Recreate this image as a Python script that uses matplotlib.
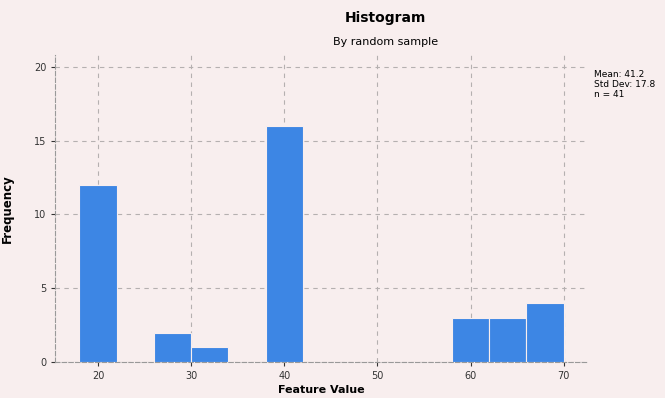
import matplotlib.pyplot as plt

# histogram bins (edges) and counts
edges = [18, 22, 26, 30, 34, 38, 42, 46, 50, 54, 58, 62, 66, 70]
counts = [12, 0, 2, 1, 0, 16, 0, 0, 0, 0, 3, 3, 4]
xticks = [20, 30, 40, 50, 60, 70]
yticks = [0, 5, 10, 15, 20]
stats_text = "Mean: 41.2\nStd Dev: 17.8\nn = 41"

bg = "#f8eeee"
fig = plt.figure(figsize=(6.65, 3.98), dpi=100, facecolor=bg)
ax = fig.add_axes([0.083, 0.09, 0.801, 0.772], facecolor=bg)

widths = [edges[i + 1] - edges[i] for i in range(len(counts))]
ax.bar(edges[:-1], counts, width=widths, align="edge", color="#3d86e4",
       edgecolor=bg, linewidth=0.8, zorder=3)

ax.set_xlim(edges[0] - 0.05 * (edges[-1] - edges[0]), edges[-1] + 0.05 * (edges[-1] - edges[0]))
ax.set_ylim(0, 20.8)
ax.set_xticks(xticks)
ax.set_yticks(yticks)
ax.tick_params(labelsize=7, colors="#333333", length=3)
ax.grid(True, linestyle=(0, (4, 4)), color="#b5b0b0", linewidth=0.8, zorder=0)

for s in ["top", "right"]:
  ax.spines[s].set_visible(False)
for s in ["left", "bottom"]:
  ax.spines[s].set_color("#999999")
  ax.spines[s].set_linestyle((0, (4, 2)))

ax.set_xlabel("Feature Value", fontsize=8, fontweight="bold", labelpad=3)
ax.set_ylabel("Frequency", fontsize=8.5, fontweight="bold", labelpad=14)
fig.text(0.58, 0.955, "Histogram", ha="center", va="center", fontsize=10, fontweight="bold")
fig.text(0.58, 0.895, "By random sample", ha="center", va="center", fontsize=8)
fig.text(0.893, 0.825, stats_text, ha="left", va="top", fontsize=6.5)

fig.savefig("out.png", dpi=100, facecolor=bg)
